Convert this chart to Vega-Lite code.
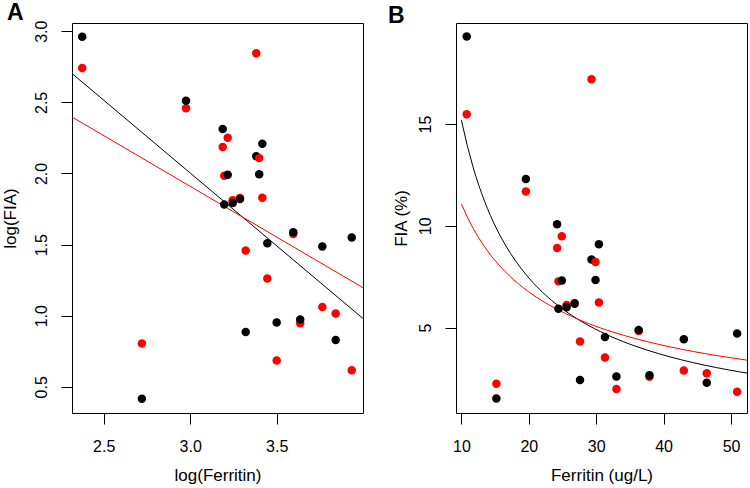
{
  "$schema": "https://vega.github.io/schema/vega-lite/v6.json",
  "autosize": {"type": "none"},
  "padding": {"left": 72, "top": 23, "right": 678, "bottom": 465},
  "bounds": "flush",
  "spacing": 93,
  "background": "white",
  "config": {
    "font": "Liberation Sans",
    "view": {"stroke": "black", "strokeWidth": 1},
    "axis": {
      "grid": false, "domain": false, "tickColor": "black", "tickSize": 11, "tickWidth": 1,
      "labelColor": "black", "labelFontSize": 16, "labelFont": "Liberation Sans",
      "titleColor": "black", "titleFontSize": 17, "titleFontWeight": "normal", "titleFont": "Liberation Sans"
    },
    "axisX": {"labelBaseline": "alphabetic", "labelPadding": 27, "titleBaseline": "alphabetic", "titleY": 67},
    "axisY": {"labelAngle": 270, "labelAlign": "center", "labelBaseline": "alphabetic", "labelPadding": 15, "titleAngle": 270, "titleBaseline": "alphabetic"},
    "title": {"fontSize": 23, "fontWeight": "bold", "anchor": "start", "frame": "group", "baseline": "alphabetic", "color": "black", "font": "Liberation Sans"}
  },
  "data": {"values": [
    {"subject": 1, "method": "Method 2", "logFer": 2.376, "logFIA": 2.742, "fer": 10.79, "fia": 15.49},
    {"subject": 1, "method": "Method 1", "logFer": 2.376, "logFIA": 2.962, "fer": 10.79, "fia": 19.31},
    {"subject": 2, "method": "Method 2", "logFer": 2.721, "logFIA": 0.804, "fer": 15.19, "fia": 2.24},
    {"subject": 2, "method": "Method 1", "logFer": 2.721, "logFIA": 0.417, "fer": 15.19, "fia": 1.51},
    {"subject": 3, "method": "Method 2", "logFer": 2.976, "logFIA": 2.458, "fer": 19.57, "fia": 11.69},
    {"subject": 3, "method": "Method 1", "logFer": 2.976, "logFIA": 2.512, "fer": 19.57, "fia": 12.3},
    {"subject": 4, "method": "Method 2", "logFer": 3.188, "logFIA": 2.186, "fer": 24.2, "fia": 8.91},
    {"subject": 4, "method": "Method 1", "logFer": 3.188, "logFIA": 2.312, "fer": 24.2, "fia": 10.08},
    {"subject": 5, "method": "Method 2", "logFer": 3.197, "logFIA": 1.984, "fer": 24.4, "fia": 7.27},
    {"subject": 5, "method": "Method 1", "logFer": 3.197, "logFIA": 1.782, "fer": 24.4, "fia": 5.92},
    {"subject": 6, "method": "Method 2", "logFer": 3.217, "logFIA": 2.251, "fer": 24.9, "fia": 9.49},
    {"subject": 6, "method": "Method 1", "logFer": 3.217, "logFIA": 1.991, "fer": 24.9, "fia": 7.31},
    {"subject": 7, "method": "Method 2", "logFer": 3.246, "logFIA": 1.811, "fer": 25.6, "fia": 6.11},
    {"subject": 7, "method": "Method 1", "logFer": 3.246, "logFIA": 1.792, "fer": 25.6, "fia": 6.0},
    {"subject": 8, "method": "Method 2", "logFer": 3.288, "logFIA": 1.827, "fer": 26.8, "fia": 6.21},
    {"subject": 8, "method": "Method 1", "logFer": 3.288, "logFIA": 1.82, "fer": 26.8, "fia": 6.17},
    {"subject": 9, "method": "Method 2", "logFer": 3.321, "logFIA": 1.459, "fer": 27.6, "fia": 4.31},
    {"subject": 9, "method": "Method 1", "logFer": 3.321, "logFIA": 0.886, "fer": 27.6, "fia": 2.42},
    {"subject": 10, "method": "Method 2", "logFer": 3.382, "logFIA": 2.845, "fer": 29.3, "fia": 17.2},
    {"subject": 10, "method": "Method 1", "logFer": 3.382, "logFIA": 2.122, "fer": 29.3, "fia": 8.35},
    {"subject": 11, "method": "Method 2", "logFer": 3.399, "logFIA": 2.108, "fer": 29.9, "fia": 8.22},
    {"subject": 11, "method": "Method 1", "logFer": 3.399, "logFIA": 1.994, "fer": 29.9, "fia": 7.34},
    {"subject": 12, "method": "Method 2", "logFer": 3.417, "logFIA": 1.829, "fer": 30.4, "fia": 6.23},
    {"subject": 12, "method": "Method 1", "logFer": 3.417, "logFIA": 2.209, "fer": 30.4, "fia": 9.1},
    {"subject": 13, "method": "Method 2", "logFer": 3.446, "logFIA": 1.262, "fer": 31.3, "fia": 3.53},
    {"subject": 13, "method": "Method 1", "logFer": 3.446, "logFIA": 1.51, "fer": 31.3, "fia": 4.53},
    {"subject": 14, "method": "Method 2", "logFer": 3.5, "logFIA": 0.685, "fer": 33.0, "fia": 1.98},
    {"subject": 14, "method": "Method 1", "logFer": 3.5, "logFIA": 0.952, "fer": 33.0, "fia": 2.59},
    {"subject": 15, "method": "Method 2", "logFer": 3.596, "logFIA": 1.574, "fer": 36.3, "fia": 4.83},
    {"subject": 15, "method": "Method 1", "logFer": 3.596, "logFIA": 1.586, "fer": 36.3, "fia": 4.88},
    {"subject": 16, "method": "Method 2", "logFer": 3.636, "logFIA": 0.947, "fer": 37.9, "fia": 2.58},
    {"subject": 16, "method": "Method 1", "logFer": 3.636, "logFIA": 0.973, "fer": 37.9, "fia": 2.65},
    {"subject": 17, "method": "Method 2", "logFer": 3.764, "logFIA": 1.062, "fer": 43.0, "fia": 2.89},
    {"subject": 17, "method": "Method 1", "logFer": 3.764, "logFIA": 1.487, "fer": 43.0, "fia": 4.42},
    {"subject": 18, "method": "Method 2", "logFer": 3.841, "logFIA": 1.015, "fer": 46.4, "fia": 2.75},
    {"subject": 18, "method": "Method 1", "logFer": 3.841, "logFIA": 0.83, "fer": 46.4, "fia": 2.29},
    {"subject": 19, "method": "Method 2", "logFer": 3.934, "logFIA": 0.616, "fer": 50.9, "fia": 1.85},
    {"subject": 19, "method": "Method 1", "logFer": 3.934, "logFIA": 1.55, "fer": 50.9, "fia": 4.71}
  ]},
  "hconcat": [
    {
      "width": 291, "height": 390,
      "title": {"text": "A", "dx": -65, "dy": 9, "offset": 4},
      "layer": [
        {
          "transform": [{"regression": "logFIA", "on": "logFer", "groupby": ["method"], "extent": [2.317, 3.999]}],
          "mark": {"type": "line", "strokeWidth": 1, "clip": true},
          "encoding": {
            "x": {"field": "logFer", "type": "quantitative"},
            "y": {"field": "logFIA", "type": "quantitative"},
            "stroke": {"field": "method", "type": "nominal", "scale": {"domain": ["Method 1", "Method 2"], "range": ["#ff0000", "#000000"]}, "legend": null}
          }
        },
        {
          "mark": {"type": "circle", "size": 72, "opacity": 1},
          "encoding": {
            "x": {"field": "logFer", "type": "quantitative", "title": "log(Ferritin)",
                  "scale": {"domain": [2.317, 3.999], "nice": false, "zero": false},
                  "axis": {"values": [2.5, 3.0, 3.5], "format": ".1f"}},
            "y": {"field": "logFIA", "type": "quantitative", "title": "log(FIA)",
                  "scale": {"domain": [0.316, 3.058], "nice": false, "zero": false},
                  "axis": {"values": [0.5, 1.0, 1.5, 2.0, 2.5, 3.0], "format": ".1f", "titleX": -57}},
            "fill": {"field": "method", "type": "nominal", "scale": {"domain": ["Method 1", "Method 2"], "range": ["#000000", "#ff0000"]}, "legend": null}
          }
        }
      ]
    },
    {
      "width": 291, "height": 390,
      "title": {"text": "B", "dx": -68, "dy": 9, "offset": 4},
      "layer": [
        {
          "transform": [{"regression": "fia", "on": "fer", "groupby": ["method"], "method": "pow", "extent": [10, 53]}],
          "mark": {"type": "line", "strokeWidth": 1, "clip": true},
          "encoding": {
            "x": {"field": "fer", "type": "quantitative"},
            "y": {"field": "fia", "type": "quantitative"},
            "stroke": {"field": "method", "type": "nominal", "scale": {"domain": ["Method 1", "Method 2"], "range": ["#ff0000", "#000000"]}, "legend": null}
          }
        },
        {
          "mark": {"type": "circle", "size": 72, "opacity": 1},
          "encoding": {
            "x": {"field": "fer", "type": "quantitative", "title": "Ferritin (ug/L)",
                  "scale": {"domain": [9.2, 52.37], "nice": false, "zero": false},
                  "axis": {"values": [10, 20, 30, 40, 50]}},
            "y": {"field": "fia", "type": "quantitative", "title": "FIA (%)",
                  "scale": {"domain": [0.8, 19.97], "nice": false, "zero": false},
                  "axis": {"values": [5, 10, 15], "titleX": -50}},
            "fill": {"field": "method", "type": "nominal", "scale": {"domain": ["Method 1", "Method 2"], "range": ["#000000", "#ff0000"]}, "legend": null}
          }
        }
      ]
    }
  ]
}
